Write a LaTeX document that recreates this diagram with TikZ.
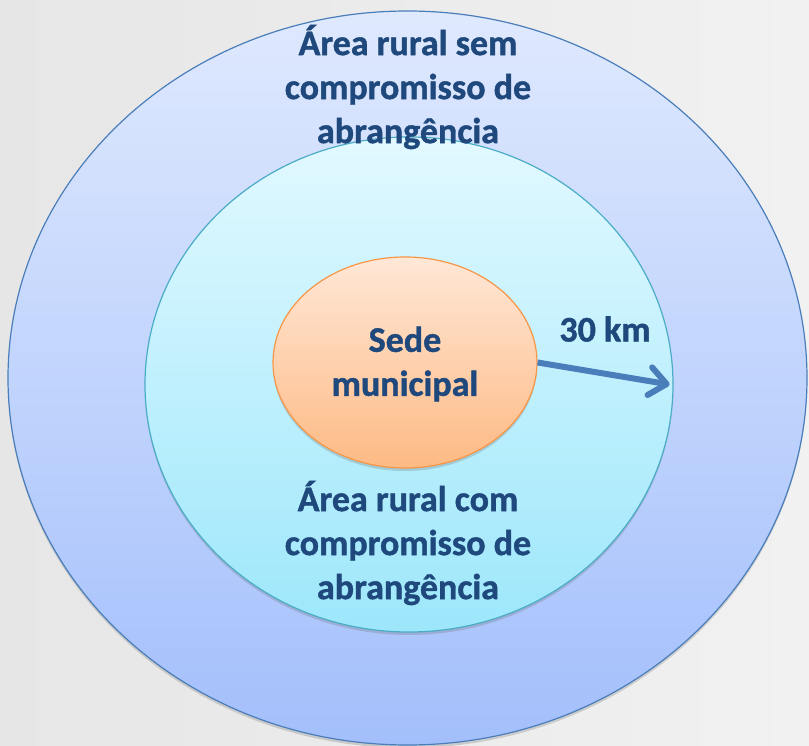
\documentclass[tikz,border=0pt]{standalone}
\usepackage{fontspec}
\setmainfont{Carlito}[BoldFeatures={FakeBold=1.2}]
\usetikzlibrary{shapes.geometric,shadows,arrows.meta}
\definecolor{txtblue}{HTML}{1F497D}
\definecolor{arrowblue}{HTML}{4A7EBB}
\definecolor{outerline}{HTML}{4A7EBB}
\definecolor{innerline}{HTML}{4BACC6}
\definecolor{orangeline}{HTML}{F79646}
\definecolor{outertop}{HTML}{DFE9FE}
\definecolor{outerbot}{HTML}{A3BFFB}
\definecolor{innertop}{HTML}{E2F9FF}
\definecolor{innerbot}{HTML}{9DE7FB}
\definecolor{orangetop}{HTML}{FFE7D7}
\definecolor{orangebot}{HTML}{FDBA84}
\definecolor{bgleft}{HTML}{E6E6E6}
\definecolor{bgright}{HTML}{F1F1F1}
\tikzset{
  ring/.style={ellipse, inner sep=0pt, line width=1.2pt,
    drop shadow={shadow xshift=0pt, shadow yshift=-3pt, opacity=0.25, fill=black!60}},
  lbl/.style={font=\fontsize{36}{44}\selectfont\bfseries, text=txtblue, align=center, inner sep=0pt},
}
\begin{document}
\begin{tikzpicture}[x=1pt, y=-1pt]
\shade[left color=bgleft, right color=bgright] (0,0) rectangle (809,746);
\useasboundingbox (0,0) rectangle (809,746);
\node[ring, draw=outerline, top color=outertop, bottom color=outerbot,
  minimum width=799pt, minimum height=734pt] (outer) at (407.5,378) {};
\node[ring, draw=innerline, top color=innertop, bottom color=innerbot,
  minimum width=528pt, minimum height=495pt] (inner) at (409,384.5) {};
\node[ring, draw=orangeline, top color=orangetop, bottom color=orangebot,
  minimum width=264pt, minimum height=211pt] (sede) at (405,362.5) {};
\node[lbl] (outertxt) at (408,87) {Área rural sem\\compromisso de\\abrangência};
\node[lbl] (sedetxt) at (405,364) {Sede\\municipal};
\node[lbl] (innertxt) at (408,543) {Área rural com\\compromisso de\\abrangência};
\node[lbl, anchor=center] (km) at (605,329) {30 km};
\draw[arrowblue, line width=6pt, -{Straight Barb[length=17pt, width=28pt, line cap=round, line join=round]}]
  (sede.east) -- ([xshift=-4pt]inner.east);
\end{tikzpicture}
\end{document}
